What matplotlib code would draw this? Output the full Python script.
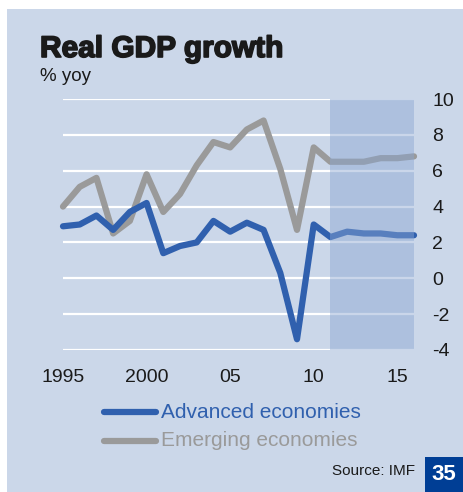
import matplotlib.pyplot as plt
import matplotlib as mpl
import matplotlib.patheffects as pe
from matplotlib.patches import Rectangle

mpl.rcParams.update({"font.family": ["Liberation Sans", "DejaVu Sans"]})

years = list(range(1995, 2017))
advanced = [2.9, 3.0, 3.5, 2.7, 3.7, 4.2, 1.4, 1.8, 2.0, 3.2, 2.6, 3.1, 2.7,
            0.3, -3.4, 3.0, 2.3, 2.6, 2.5, 2.5, 2.4, 2.4]
emerging = [4.0, 5.1, 5.6, 2.5, 3.2, 5.8, 3.7, 4.7, 6.3, 7.6, 7.3, 8.3, 8.8,
            6.1, 2.7, 7.3, 6.5, 6.5, 6.5, 6.7, 6.7, 6.8]
forecast_start, forecast_end = 2011, 2016
yticks = [-4, -2, 0, 2, 4, 6, 8, 10]
xticks = [1995, 2000, 2005, 2010, 2015]
xticklabels = ["1995", "2000", "05", "10", "15"]

bg = "#CBD7E9"
blue = "#3060AE"
grey = "#9A9A9A"

W, H = 464, 492
fig = plt.figure(figsize=(W / 100, H / 100), dpi=100, facecolor="white")
fig.patches.append(Rectangle((7 / W, 0), 1 - 7 / W, 1 - 9 / H,
                             transform=fig.transFigure, facecolor=bg,
                             edgecolor="none", zorder=-10))

ax = fig.add_axes([63 / W, 142 / H, 351 / W, 251 / H])
ax.set_facecolor("none")
for s in ax.spines.values():
    s.set_visible(False)

ax.set_xlim(1995, 2016)
ax.set_ylim(-4, 10)
for v in yticks:
    ax.axhline(v, color="white", lw=1.6, zorder=1)

ax.plot(years, emerging, color=grey, lw=4.5, solid_capstyle="round",
        solid_joinstyle="round", zorder=3, clip_on=False)
ax.plot(years, advanced, color=blue, lw=4.5, solid_capstyle="round",
        solid_joinstyle="round", zorder=4, clip_on=False)
ax.axvspan(forecast_start, forecast_end, color="#8AA6D2", alpha=0.45,
           lw=0, zorder=5)

ax.yaxis.tick_right()
ax.set_yticks(yticks)
ax.set_yticklabels([str(v) for v in yticks], fontsize=14, color="#1a1a1a")
ax.set_xticks(xticks)
ax.set_xticklabels(xticklabels, fontsize=14, color="#1a1a1a")
ax.tick_params(axis="y", length=0, pad=13)
ax.tick_params(axis="x", length=0, pad=14)

fig.text(40 / W, 1 - 57 / H, "Real GDP growth", fontsize=21.5,
         fontweight="bold", color="#1a1a1a",
         path_effects=[pe.withStroke(linewidth=1.2, foreground="#1a1a1a")])
fig.text(40 / W, 1 - 81 / H, "% yoy", fontsize=13.5, color="#1a1a1a")

# legend
for yy, col, lab in [(412, blue, "Advanced economies"),
                     (441, grey, "Emerging economies")]:
    fig.add_artist(mpl.lines.Line2D([104 / W, 156 / W], [1 - yy / H, 1 - yy / H],
                                    color=col, lw=4.5, solid_capstyle="round"))
    fig.text(161 / W, 1 - yy / H, lab, fontsize=15, color=col, va="center")

fig.text(415 / W, 1 - 471 / H, "Source: IMF", fontsize=11, color="#1a1a1a",
         ha="right", va="center")
fig.patches.append(Rectangle((425 / W, 0), 1 - 425 / W, 35 / H,
                             transform=fig.transFigure, facecolor="#003E95",
                             edgecolor="none", zorder=1))
fig.text(444 / W, 1 - 475 / H, "35", fontsize=16, fontweight="bold",
         color="white", ha="center", va="center")

fig.savefig("out.png", dpi=100, facecolor="white")
